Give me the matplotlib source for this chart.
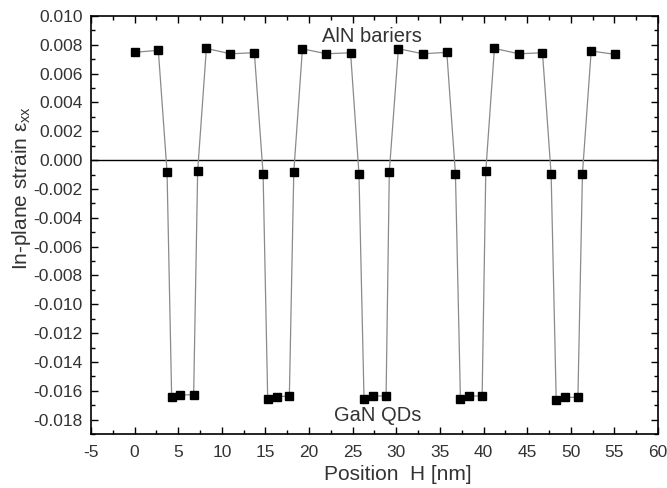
import numpy as np
import matplotlib
matplotlib.use("Agg")
import matplotlib.pyplot as plt
from matplotlib.ticker import MultipleLocator, FuncFormatter

plt.rcParams['font.family'] = ['Liberation Sans', 'DejaVu Sans']
plt.rcParams['mathtext.fontset'] = 'custom'
plt.rcParams['mathtext.rm'] = 'Liberation Sans'
plt.rcParams['mathtext.it'] = 'Liberation Sans:italic'
plt.rcParams['axes.unicode_minus'] = False

# position H [nm]
pos = [0.0, 2.72, 3.72, 4.25, 5.24, 6.77, 7.23, 8.23, 10.98, 13.73,
       14.73, 15.26, 16.3, 17.74, 18.25, 19.24, 21.99, 24.76, 25.72, 26.3,
       27.3, 28.83, 29.2, 30.24, 33.04, 35.79, 36.78, 37.35, 38.31, 39.84,
       40.26, 41.25, 44.05, 46.76, 47.75, 48.33, 49.36, 50.82, 51.34, 52.34,
       55.09]
# in-plane strain
strain = [0.00748, 0.00762, -0.00081, -0.01646, -0.0163, -0.01627, -0.00074, 0.00775, 0.00738, 0.00745,
          -0.00095, -0.0166, -0.01641, -0.01637, -0.00081, 0.00772, 0.00738, 0.00745, -0.00095, -0.01655,
          -0.01639, -0.01634, -0.00079, 0.00773, 0.00738, 0.00748, -0.00095, -0.01655, -0.01639, -0.01634,
          -0.00076, 0.00775, 0.00738, 0.00745, -0.00099, -0.01662, -0.01646, -0.01646, -0.00093, 0.00757,
          0.00734]

fig = plt.figure(figsize=(6.67, 4.88), dpi=100)
ax = fig.add_axes([0.1364, 0.1107, 0.8501, 0.8565])

ax.axhline(0, color='black', lw=1.0, zorder=1)
ax.plot(pos, strain, '-', color='#8a8a8a', lw=0.9, zorder=2)
ax.plot(pos, strain, 's', color='black', ms=6, zorder=3)

ax.set_xlim(-5, 60)
ax.set_ylim(-0.019, 0.010)
ax.xaxis.set_major_locator(MultipleLocator(5))
ax.xaxis.set_minor_locator(MultipleLocator(2.5))
ax.yaxis.set_major_locator(MultipleLocator(0.002))
ax.yaxis.set_minor_locator(MultipleLocator(0.001))

def yfmt(v, p):
    s = '%.3f' % v
    return '0.000' if s == '-0.000' else s
ax.yaxis.set_major_formatter(FuncFormatter(yfmt))

ax.tick_params(which='both', direction='in', top=True, right=True, width=1.0)
ax.tick_params(which='major', length=5, labelsize=12.5, labelcolor='#333333')
ax.tick_params(which='minor', length=3)
ax.tick_params(axis='x', pad=8)
ax.tick_params(axis='y', pad=6)
for s in ax.spines.values():
    s.set_linewidth(1.2)

ax.set_xlabel('Position  H [nm]', fontsize=15, color='#333333', va='top')
ax.xaxis.set_label_coords(0.541, -0.074)
ax.set_ylabel(r'In-plane strain ε$_{\mathrm{xx}}$', fontsize=15, color='#333333')
ax.yaxis.set_label_coords(-0.102, 0.589)

ax.text(27.2, 0.0086, 'AlN bariers', fontsize=14.5, ha='center', va='center', color='#333333')
ax.text(27.9, -0.0177, 'GaN QDs', fontsize=14.5, ha='center', va='center', color='#333333')

fig.savefig('out.png', dpi=100)
